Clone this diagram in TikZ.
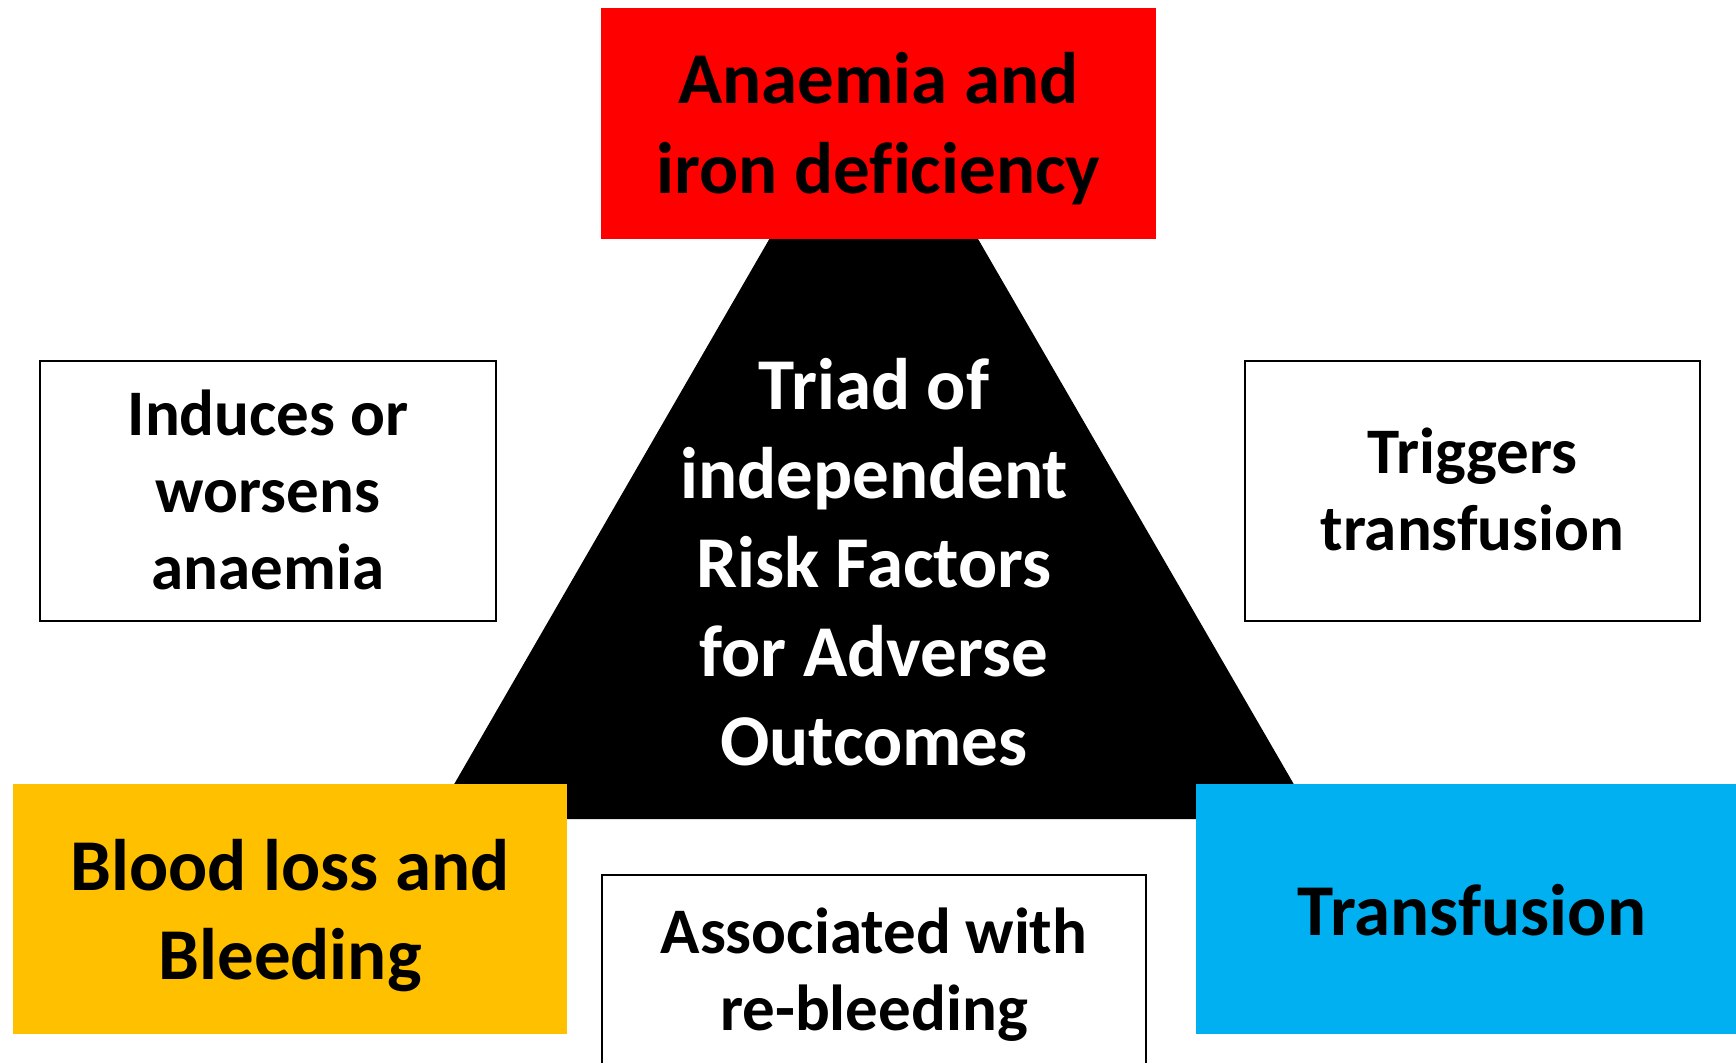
\documentclass[tikz,border=0pt]{standalone}
\usepackage{fontspec}
\setmainfont{Carlito}[Ligatures=NoCommon]
\definecolor{redc}{HTML}{FF0000}
\definecolor{yelc}{HTML}{FFC000}
\definecolor{bluc}{HTML}{00B0F0}
\begin{document}
\begin{tikzpicture}[x=1pt,y=-1pt,
  colbox/.style={draw=none, inner sep=0pt},
  wbox/.style={draw=black, line width=2pt, fill=white, inner sep=0pt},
  bigtxt/.style={font=\bfseries\fontsize{73}{89}\selectfont, align=center, inner sep=0pt, anchor=base},
  smalltxt/.style={font=\bfseries\fontsize{65}{77}\selectfont, align=center, inner sep=0pt, anchor=base}]
\useasboundingbox (0,0) rectangle (1736,1062);
\fill[white] (0,0) rectangle (1736,1062);
% triangle
\coordinate (apex) at (873.6,58.7);
\coordinate (bl) at (434,819);
\coordinate (br) at (1314,819);
\fill[black] (apex) -- (bl) -- (br) -- cycle;
% coloured boxes
\node[colbox, fill=redc, minimum width=555, minimum height=231] (red) at (878.5,123.5) {};
\node[colbox, fill=yelc, minimum width=554, minimum height=250] (yel) at (290,909) {};
\node[colbox, fill=bluc, minimum width=554, minimum height=250] (blu) at (1473,909) {};
% white boxes
\node[wbox, minimum width=456, minimum height=260] (lbox) at (268,491) {};
\node[wbox, minimum width=455, minimum height=260] (rbox) at (1472.5,491) {};
\node[wbox, minimum width=544, minimum height=210] (bbox) at (874,980) {};
% texts (anchor=base is the baseline of the last line)
\node[bigtxt] (redt) at (878.5,193) {Anaemia and\\iron deficiency};
\node[bigtxt, text=white] (trit) at (874,765) {Triad of\\independent\\Risk Factors\\for Adverse\\Outcomes};
\node[bigtxt] (yelt) at (290,979) {Blood loss and\\Bleeding};
\node[bigtxt] (blut) at (1472,935) {Transfusion};
\node[smalltxt] (lt) at (268,589) {Induces or\\worsens\\anaemia};
\node[smalltxt] (rt) at (1472.5,550) {Triggers\\transfusion};
\node[smalltxt] (bt) at (874,1030) {Associated with\\re-bleeding};
\end{tikzpicture}
\end{document}
